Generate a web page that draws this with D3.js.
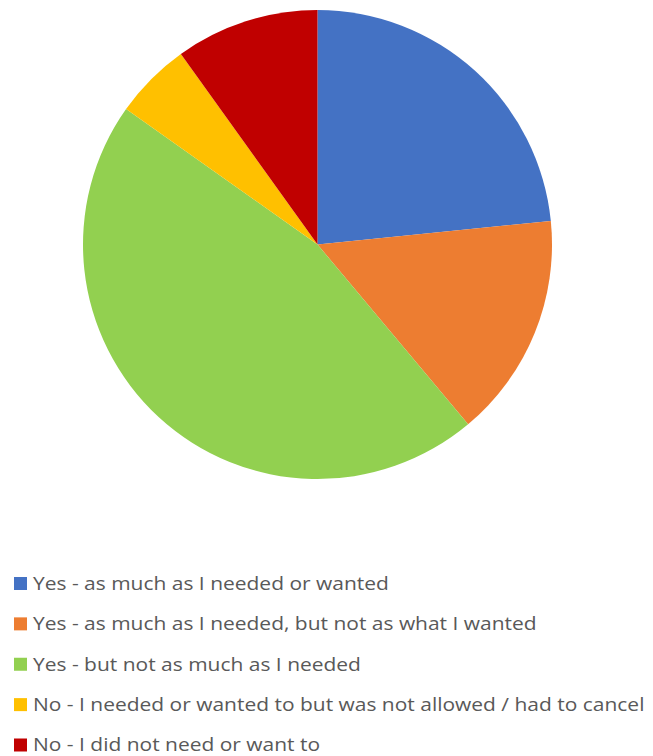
<!DOCTYPE html>
<html>
<head>
<meta charset="utf-8">
<script src="https://cdn.jsdelivr.net/npm/d3@7"></script>
<style>
  html, body { margin: 0; padding: 0; background: #ffffff; }
  svg { display: block; }
</style>
</head>
<body>
<svg id="chart" width="653" height="756"></svg>
<script>
// Survey answers and their share of respondents (%)
const categories = [
  "Yes - as much as I needed or wanted",
  "Yes - as much as I needed, but not as what I wanted",
  "Yes - but not as much as I needed",
  "No - I needed or wanted to but was not allowed / had to cancel",
  "No - I did not need or want to"
];
const shares = [23.4, 15.5, 45.9, 5.3, 9.9];
const colors = ["#4472C4", "#ED7D31", "#92D050", "#FFC000", "#C00000"];

const svg = d3.select("#chart");

const cx = 317.5, cy = 244.5, radius = 234.5;

const data = categories.map((c, i) => ({ label: c, value: shares[i], color: colors[i] }));

const pie = d3.pie().value(d => d.value).sort(null);
const arc = d3.arc().innerRadius(0).outerRadius(radius);

svg.append("g")
  .attr("transform", `translate(${cx},${cy})`)
  .selectAll("path")
  .data(pie(data))
  .join("path")
  .attr("d", arc)
  .attr("fill", d => d.data.color);

// Legend, one entry per row
const legendY = d3.scalePoint().domain(categories).range([583.5, 745]);

const legend = svg.append("g")
  .selectAll("g")
  .data(data)
  .join("g")
  .attr("transform", d => `translate(0,${legendY(d.label)})`);

legend.append("rect")
  .attr("x", 14)
  .attr("y", -6.5)
  .attr("width", 13)
  .attr("height", 13)
  .attr("fill", d => d.color);

// Labels are set slightly wide to fill the row
legend.append("text")
  .attr("transform", "translate(33,6.3) scale(1.165,1)")
  .attr("fill", "#595959")
  .style("font-family", "'Open Sans', 'Noto Sans', sans-serif")
  .style("font-size", "18px")
  .text(d => d.label);
</script>
</body>
</html>
